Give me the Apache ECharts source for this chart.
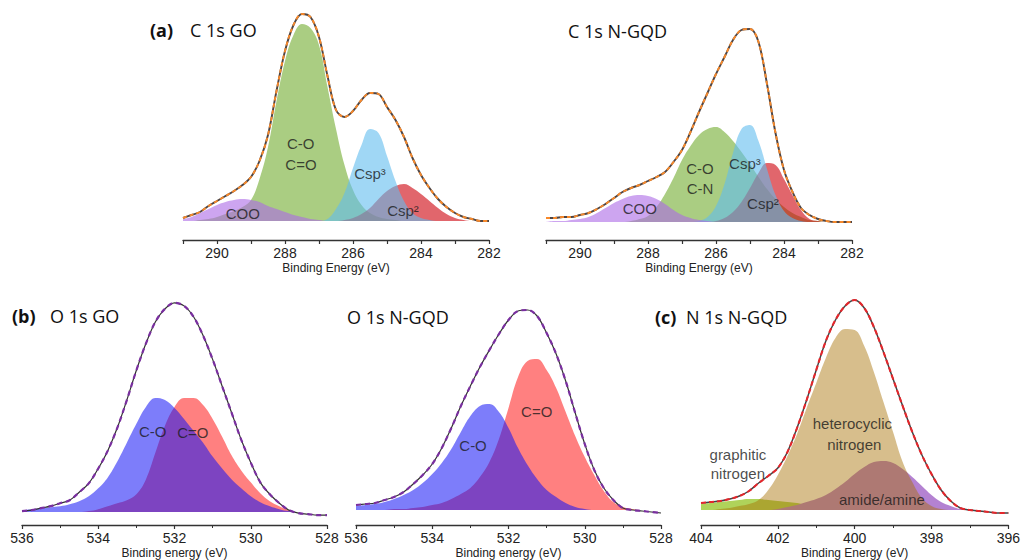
<!DOCTYPE html>
<html><head><meta charset="utf-8">
<script src="https://cdn.jsdelivr.net/npm/echarts@6/dist/echarts.min.js"></script>
<style>html,body{margin:0;padding:0;background:#fff}#c{width:1023px;height:560px}</style>
</head><body><div id="c"></div>
<script>
// ---------- energies (eV) ----------
const eC = [291,290.75,290.5,290.25,290,289.75,289.5,289.25,289,288.75,288.5,288.25,288,287.75,287.5,287.25,287,286.75,286.5,286.25,286,285.75,285.5,285.25,285,284.75,284.5,284.25,284,283.75,283.5,283.25,283,282.75,282.5,282.25,282];
const eO = [536,535.75,535.5,535.25,535,534.75,534.5,534.25,534,533.75,533.5,533.25,533,532.75,532.5,532.25,532,531.75,531.5,531.25,531,530.75,530.5,530.25,530,529.75,529.5,529.25,529,528.75,528.5,528.25,528];
const eN = [404,403.75,403.5,403.25,403,402.75,402.5,402.25,402,401.75,401.5,401.25,401,400.75,400.5,400.25,400,399.75,399.5,399.25,399,398.75,398.5,398.25,398,397.75,397.5,397.25,397,396.75,396.5,396.25,396];

// ---------- (a) C 1s GO ----------
const goC_env   = [3,6,9,15,20,25,30,36,44,60,86,130,170,196,207,204,184,145,111,104,110,121,128,127,114,101,84,63,46,33,22,14,8,4,2,0,0];
const goC_COCeO = [0,0,1,2,4,7,10,14,21,42,74,120,160,186,197,193,176,134,92,56,31,16,8,4,2,1,0,0,0,0,0,0,0,0,0,0,0];
const goC_COO   = [2,4,8,12,16,19,21,22,21,19,15,12,9,6,4,2,1,0,0,0,0,0,0,0,0,0,0,0,0,0,0,0,0,0,0,0,0];
const goC_sp3   = [0,0,0,0,0,0,0,0,0,0,0,0,0,0,0,0,0,2,12,28,53,76,92,88,65,40,20,8,3,1,0,0,0,0,0,0,0];
const goC_sp2   = [0,0,0,0,0,0,0,0,0,0,0,0,0,0,0,0,0,0,0,1,3,7,13,22,30,35,37,33,27,20,13,7,3,1,0,0,0];

// ---------- (a) C 1s N-GQD ----------
const nqC_env   = [4,4,5,5,7,9,13,18,24,30,34,37,41,45,50,60,72,90,110,129,148,165,182,192,193,180,138,89,52,30,14,7,3,1,0,0,0];
const nqC_COO   = [0,1,1,2,3,5,9,14,19,23,26,27,26,23,18,12,7,4,2,1,0,0,0,0,0,0,0,0,0,0,0,0,0,0,0,0,0];
const nqC_COCN  = [0,0,0,0,0,0,0,0,0,0,1,3,6,15,28,44,62,76,87,93,95,90,81,70,58,45,33,23,15,9,5,2,1,0,0,0,0];
const nqC_sp3   = [0,0,0,0,0,0,0,0,0,0,0,0,0,0,0,0,0,0,1,5,16,38,69,93,97,81,53,27,11,4,1,0,0,0,0,0,0];
const nqC_sp2   = [0,0,0,0,0,0,0,0,0,0,0,0,0,0,0,0,0,0,0,0,1,4,10,20,34,49,59,57,43,27,12,3,1,0,0,0,0];

// ---------- (b) O 1s GO ----------
const goO_env = [1,2,4,6,9,12,20,29,44,62,85,113,143,170,192,205,211,208,197,178,154,127,100,73,50,30,18,9,2,-1,-2,-3,-3];
const goO_CO  = [2,3,4,5,6,8,11,16,24,35,51,70,89,106,115,113,105,94,82,70,56,44,33,24,16,10,6,3,1,0,0,0,0];
const goO_CeO = [0,0,0,0,0,0,0,1,3,6,9,12,18,33,60,87,106,115,115,108,94,76,57,42,30,19,11,6,2,0,0,0,0];

// ---------- (b) O 1s N-GQD ----------
const nqO_env = [5,6,7,10,13,18,26,35,46,62,82,104,124,143,160,176,190,199,200,194,177,156,129,97,66,40,22,10,2,0,-1,-2,-3];
const nqO_CO  = [4,5,6,8,11,15,20,27,36,47,61,78,94,104,106,98,82,62,45,31,20,13,7,3,1,0,0,0,0,0,0,0,0];
const nqO_CeO = [0,0,0,0,1,1,2,3,5,7,11,16,22,33,48,71,102,133,149,151,140,122,98,74,53,35,19,8,3,1,0,0,0];

// ---------- (c) N 1s N-GQD ----------
const nqN_env    = [7,8,9,11,14,19,27,34,42,58,82,110,140,169,190,204,210,202,183,158,131,104,78,55,36,20,9,2,0,-1,-2,-3,-3];
const nqN_graph  = [6,7,8,9,10,11,11,10,9,8,7,5,4,3,2,1,0,0,0,0,0,0,0,0,0,0,0,0,0,0,0,0,0];
const nqN_hetero = [0,0,1,2,4,6,10,20,35,54,76,102,127,152,172,181,180,164,138,108,78,48,28,12,4,1,0,0,0,0,0,0,0];
const nqN_amide  = [0,0,0,0,0,0,0,0,1,3,5,8,11,15,21,28,36,43,48,49,47,41,33,24,15,8,4,1,0,0,0,0,0];

// ---------- text ----------
const ticksTop = {min:282, max:291};
const ticksO = {min:528, max:536};
const ticksN = {min:396, max:404};
const labels = [
  [0, 'C-O', 287.54, 78], [0, 'C=O', 287.53, 57], [0, 'Csp³', 285.5, 48], [0, 'COO', 289.24, 8], [0, 'Csp²', 284.53, 11],
  [1, 'C-O', 286.47, 54], [1, 'C-N', 286.47, 34], [1, 'Csp³', 285.15, 59], [1, 'COO', 288.24, 14], [1, 'Csp²', 284.62, 19],
  [2, 'C-O', 532.57, 81], [2, 'C=O', 531.52, 80],
  [3, 'C=O', 531.26, 99], [3, 'C-O', 532.93, 65],
  [4, 'heterocyclic', 400.06, 87], [4, 'nitrogen', 400.01, 66], [4, 'graphitic', 403.04, 56], [4, 'nitrogen', 403.04, 37], [4, 'amide/amine', 399.29, 11]
];

const SANS = '"Liberation Sans", Arial, sans-serif';
const chart = echarts.init(document.getElementById('c'), null, {renderer: 'svg'});

function pairs(xs, ys) { return xs.map((x, i) => [x, ys[i]]); }
function area(gi, xs, ys, color, z) {
  return {type: 'line', xAxisIndex: gi, yAxisIndex: gi, data: pairs(xs, ys), smooth: 0.4,
    symbol: 'none', showSymbol: false, lineStyle: {width: 0, opacity: 0}, areaStyle: {color: color, opacity: 1},
    z: z, silent: true, animation: false};
}
function envLine(gi, xs, ys, color, width, dash, z) {
  return {type: 'line', xAxisIndex: gi, yAxisIndex: gi, data: pairs(xs, ys), smooth: 0.35,
    symbol: 'none', showSymbol: false, lineStyle: {color: color, width: width, type: dash || 'solid'},
    z: z, silent: true, animation: false};
}
function xAx(gi, rng, interval, name, minor) {
  return {type: 'value', gridIndex: gi, inverse: true, min: rng.min, max: rng.max, interval: interval,
    name: name, nameLocation: 'middle', nameGap: 22,
    nameTextStyle: {fontSize: 12, color: '#222', fontFamily: SANS},
    axisLine: {show: true, onZero: false, lineStyle: {color: '#333', width: 1.3}},
    axisTick: {show: true, length: 4, lineStyle: {color: '#333', width: 1.2}},
    minorTick: {show: minor, splitNumber: 2, length: 3, lineStyle: {color: '#333', width: 1}},
    splitLine: {show: false}, minorSplitLine: {show: false},
    axisLabel: {fontSize: 14, color: '#222', margin: 6, fontFamily: SANS,
      formatter: v => (Math.round(v) % 2 === 0 ? String(v) : '')}};
}
function yAx(gi, min, max) { return {type: 'value', gridIndex: gi, min: min, max: max, show: false, splitLine: {show: false}}; }

const series = [
  // (a) GO
  area(0, eC, goC_COCeO, '#aacd82', 2),
  area(0, eC, goC_sp2, 'rgba(205,0,10,0.6)', 3),
  area(0, eC, goC_sp3, 'rgba(97,188,238,0.6)', 4),
  area(0, eC, goC_COO, 'rgba(172,105,230,0.6)', 5),
  envLine(0, eC, goC_env, '#4d4545', 1.9, null, 6),
  envLine(0, eC, goC_env, '#f7892b', 1.9, [4, 3], 7),
  // (a) N-GQD
  area(1, eC, nqC_COCN, '#aacd82', 2),
  area(1, eC, nqC_sp2, 'rgba(205,0,10,0.6)', 3),
  area(1, eC, nqC_sp3, 'rgba(97,188,238,0.6)', 4),
  area(1, eC, nqC_COO, 'rgba(172,105,230,0.6)', 5),
  envLine(1, eC, nqC_env, '#4d4545', 1.9, null, 6),
  envLine(1, eC, nqC_env, '#f7892b', 1.9, [4, 3], 7),
  // (b) GO
  area(2, eO, goO_CeO, '#ff8080', 2),
  area(2, eO, goO_CO, 'rgba(18,18,245,0.55)', 3),
  envLine(2, eO, goO_env, '#333333', 1.2, null, 6),
  envLine(2, eO, goO_env, '#7a2fa0', 2.2, [5, 4], 7),
  // (b) N-GQD
  area(3, eO, nqO_CeO, '#ff8080', 2),
  area(3, eO, nqO_CO, 'rgba(18,18,245,0.55)', 3),
  envLine(3, eO, nqO_env, '#333333', 1.2, null, 6),
  envLine(3, eO, nqO_env, '#7a2fa0', 2.2, [5, 4], 7),
  // (c) N 1s
  area(4, eN, nqN_graph, '#afd35a', 2),
  area(4, eN, nqN_amide, '#b482d2', 3),
  area(4, eN, nqN_hetero, 'rgba(167,111,0,0.45)', 4),
  envLine(4, eN, nqN_env, '#444444', 1.5, null, 6),
  envLine(4, eN, nqN_env, '#e5262b', 2.1, [5, 3], 7)
];
for (let gi = 0; gi < 5; gi++) {
  series.push({type: 'scatter', xAxisIndex: gi, yAxisIndex: gi, symbolSize: 1, silent: true, animation: false, z: 20,
    itemStyle: {color: 'rgba(0,0,0,0)'},
    data: labels.filter(l => l[0] === gi).map(l => ({name: l[1], value: [l[2], l[3]]})),
    label: {show: true, position: 'inside', formatter: '{b}', fontSize: 15, color: '#1a1a1a', fontFamily: SANS}});
}

const TF = '"Open Sans", "Noto Sans", sans-serif';
function ttl(x, y, text, bold) {
  return {type: 'text', x: x, y: y, silent: true,
    style: {text: text, fill: '#111', font: (bold ? 'bold ' : '') + '18px ' + TF, verticalAlign: 'middle'}};
}

chart.setOption({
  backgroundColor: '#ffffff',
  animation: false,
  grid: [
    {left: 183, width: 306, top: 10, height: 230},
    {left: 546, width: 306, top: 10, height: 230},
    {left: 22, width: 305, top: 290, height: 237},
    {left: 356, width: 305, top: 290, height: 235},
    {left: 701, width: 309, top: 290, height: 235}
  ],
  xAxis: [
    xAx(0, ticksTop, 1, 'Binding Energy (eV)', false),
    xAx(1, ticksTop, 1, 'Binding Energy (eV)', false),
    xAx(2, ticksO, 2, 'Binding energy (eV)', true),
    xAx(3, ticksO, 2, 'Binding energy (eV)', true),
    xAx(4, ticksN, 2, 'Binding Energy (eV)', true)
  ],
  yAxis: [yAx(0, -19, 211), yAx(1, -18, 212), yAx(2, -13, 224), yAx(3, -15, 220), yAx(4, -15, 220)],
  series: series,
  graphic: [
    ttl(150, 30, '(a)', true), ttl(190, 30, 'C 1s GO', false),
    ttl(568, 31, 'C 1s N-GQD', false),
    ttl(12, 316, '(b)', true), ttl(50, 316, 'O 1s GO', false),
    ttl(347, 317, 'O 1s N-GQD', false),
    ttl(655, 317, '(c)', true), ttl(686, 317, 'N 1s N-GQD', false)
  ]
});
</script>
</body></html>
